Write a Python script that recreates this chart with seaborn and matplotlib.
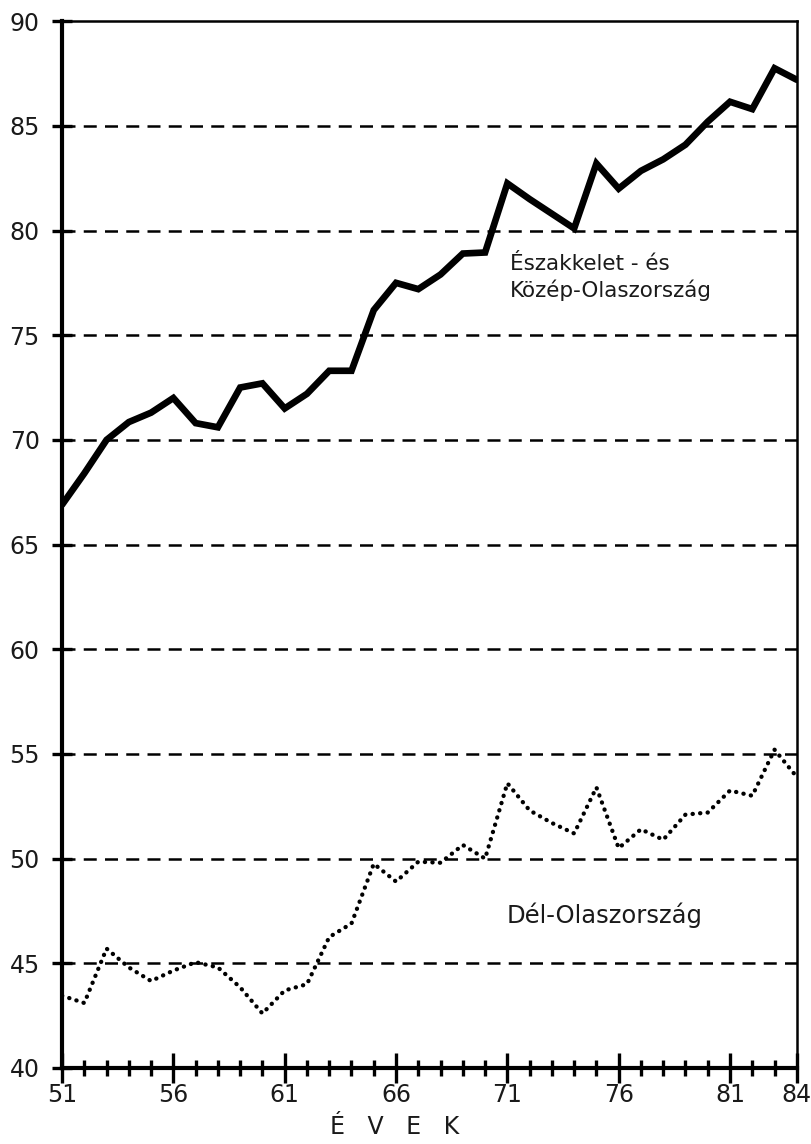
import matplotlib
matplotlib.use("Agg")
import matplotlib.pyplot as plt
import seaborn as sns
import pandas as pd
import numpy as np
from matplotlib.ticker import MultipleLocator

years = list(range(1951, 1985))
north_central = [66.9, 68.4, 70.0, 70.85, 71.3, 72.0, 70.8, 70.6, 72.5, 72.7,
                 71.5, 72.2, 73.3, 73.3, 76.2, 77.5, 77.2, 77.9, 78.9, 78.95,
                 82.25, 81.5, 80.8, 80.1, 83.2, 82.0, 82.85, 83.4, 84.1, 85.2,
                 86.15, 85.8, 87.75, 87.2]
south = [43.45, 43.1, 45.7, 44.8, 44.15, 44.65, 45.05, 44.8, 43.85, 42.6,
         43.7, 44.0, 46.25, 46.9, 49.75, 48.9, 49.85, 49.8, 50.65, 50.0,
         53.6, 52.3, 51.7, 51.2, 53.4, 50.5, 51.4, 50.9, 52.1, 52.2,
         53.25, 53.0, 55.2, 53.9]
xtick_labels = ["51", "56", "61", "66", "71", "76", "81", "84"]
ytick_values = [40, 45, 50, 55, 60, 65, 70, 75, 80, 85, 90]

sns.set_style("white")
plt.rcParams['font.family'] = ['DejaVu Sans']

df = pd.DataFrame({"year": years, "north": north_central, "south": south})
df["x"] = df["year"] - 1900

fig = plt.figure(figsize=(8.11, 11.44), dpi=100)
ax = fig.add_axes([0.0765, 0.0665, 0.906, 0.915])

for yv in ytick_values[1:-1]:
    ax.axhline(yv, color="black", lw=1.8, dashes=(5.2, 3.3), zorder=1)

sns.lineplot(data=df, x="x", y="north", ax=ax, color="black", lw=4.8,
             solid_joinstyle="miter", zorder=3)
sns.lineplot(data=df, x="x", y="south", ax=ax, color="black", lw=3.1,
             zorder=3)
ax.lines[-1].set_dashes((0.05, 1.7))
ax.lines[-1].set_dash_capstyle("round")

ax.set_xlim(51, 84)
ax.set_ylim(40, 90)

ax.set_yticks(ytick_values)
ax.set_yticklabels([str(v) for v in ytick_values])
ax.set_xticks([int(t) for t in xtick_labels])
ax.set_xticklabels(xtick_labels)
ax.xaxis.set_minor_locator(MultipleLocator(1))

ax.tick_params(axis="y", which="major", direction="inout", length=14, width=2.4,
               labelsize=17, pad=9, left=True, color="black")
ax.tick_params(axis="x", which="major", direction="inout", length=22, width=2.4,
               labelsize=17, pad=0, bottom=True, color="black")
ax.tick_params(axis="x", which="minor", direction="inout", length=12, width=2.4,
               bottom=True, color="black")
for lab in ax.get_yticklabels() + ax.get_xticklabels():
    lab.set_color("#1a1a1a")

for side in ["left", "bottom"]:
    ax.spines[side].set_linewidth(3)
    ax.spines[side].set_color("black")
for side in ["top", "right"]:
    ax.spines[side].set_linewidth(1.8)
    ax.spines[side].set_color("black")

ax.set_xlabel("É   V   E   K", fontsize=17, color="#1a1a1a")
ax.xaxis.set_label_coords(0.453, -0.045)
ax.set_ylabel("")

ax.text(71.1, 77.75, "Északkelet - és\nKözép-Olaszország", fontsize=15.5,
        ha="left", va="center", linespacing=1.3, color="#1a1a1a")
ax.text(70.95, 47.3, "Dél-Olaszország", fontsize=17.5, ha="left", va="center",
        color="#1a1a1a")

fig.savefig("out.png", dpi=100, facecolor="white")
